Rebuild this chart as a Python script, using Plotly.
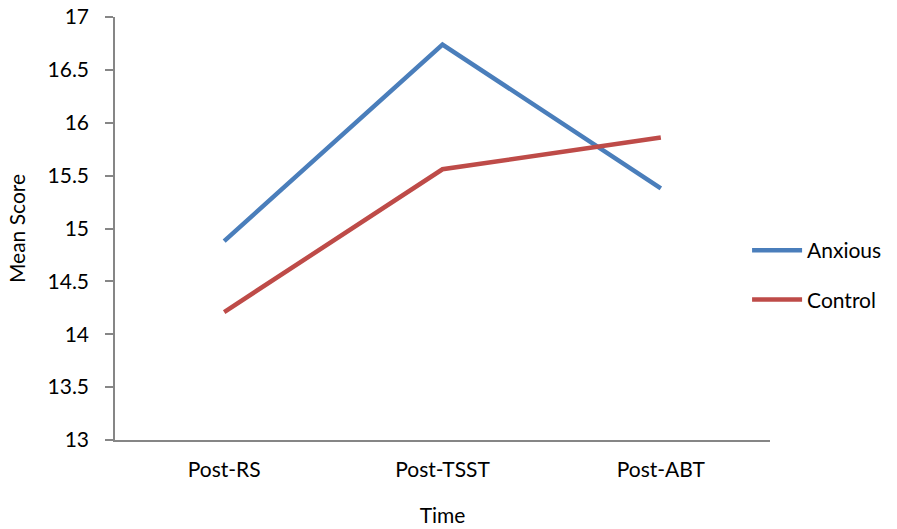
import plotly.graph_objects as go

# Mean scores at each time point
time_points = ["Post-RS", "Post-TSST", "Post-ABT"]
anxious = [14.88, 16.74, 15.38]
control = [14.21, 15.56, 15.86]
y_ticks = [13, 13.5, 14, 14.5, 15, 15.5, 16, 16.5, 17]

font_family = "Lato, 'Open Sans', sans-serif"
axis_grey = "#868686"

fig = go.Figure()
fig.add_trace(go.Scatter(x=time_points, y=anxious, mode="lines", name="Anxious",
                         legendgroup="anxious",
                         line=dict(color="#4A7EBB", width=4.5)))
fig.add_trace(go.Scatter(x=time_points, y=control, mode="lines", name="Control",
                         legendgroup="control",
                         line=dict(color="#BE4B48", width=4.5)))

fig.update_layout(
    width=897, height=529,
    margin=dict(l=115, r=127, t=17, b=89, autoexpand=False),
    paper_bgcolor="white", plot_bgcolor="white",
    font=dict(family=font_family, size=21, color="black"),
    showlegend=True,
    legend=dict(x=0.965, y=0.39, xanchor="left", yanchor="middle",
                font=dict(size=21), tracegroupgap=19, itemwidth=50,
                bgcolor="rgba(0,0,0,0)"),
)
fig.update_xaxes(
    type="category", range=[-0.5, 2.5], automargin=False,
    showline=True, linecolor=axis_grey, linewidth=1.5,
    ticks="", showgrid=False, zeroline=False,
    tickfont=dict(size=21), ticklabelstandoff=10,
    title=dict(text="Time", font=dict(size=21), standoff=28),
)
fig.update_yaxes(
    range=[13, 17], tickvals=y_ticks, ticktext=[f"{v:g}" for v in y_ticks],
    automargin=False,
    showline=True, linecolor=axis_grey, linewidth=1.5,
    ticks="outside", ticklen=8, tickcolor=axis_grey, tickwidth=1.5,
    showgrid=False, zeroline=False,
    tickfont=dict(size=21), ticklabelstandoff=12,
    title=dict(text="Mean Score", font=dict(size=21), standoff=16),
)

fig.write_html("out.html")
